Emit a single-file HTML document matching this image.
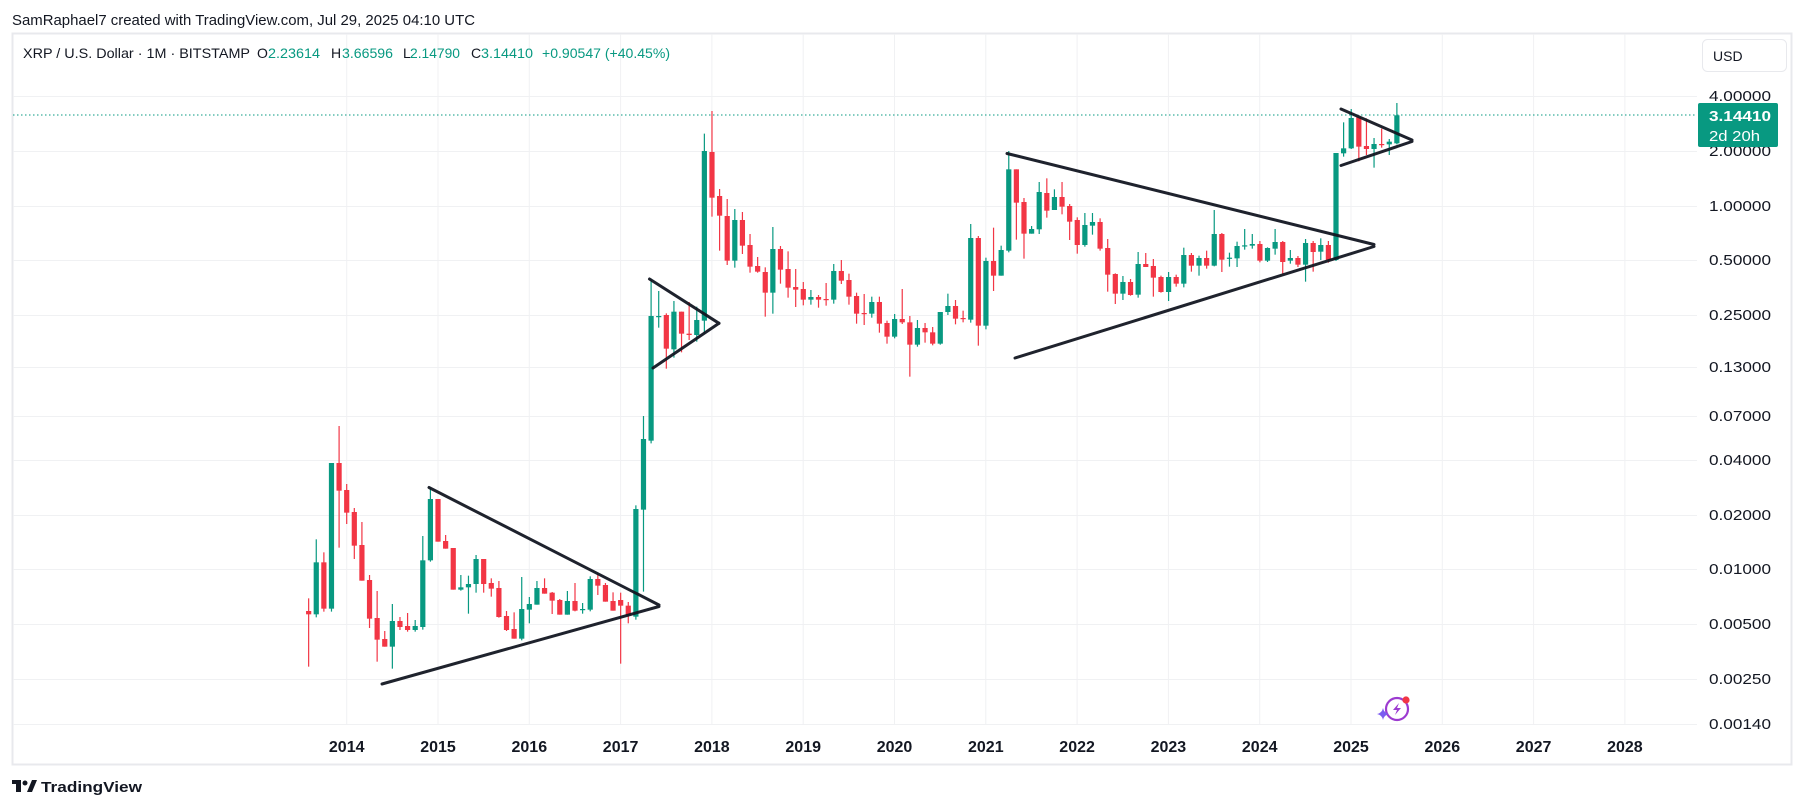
<!DOCTYPE html>
<html><head><meta charset="utf-8"><style>
html,body{margin:0;padding:0;background:#fff;width:1805px;height:810px;overflow:hidden}
svg{display:block;font-family:"Liberation Sans",sans-serif}
</style></head><body>
<svg id="s" width="1805" height="810" viewBox="0 0 1805 810" xmlns="http://www.w3.org/2000/svg">
<rect x="0" y="0" width="1805" height="810" fill="#fff"/>
<text x="12" y="25" font-size="15" fill="#131722" textLength="463" lengthAdjust="spacingAndGlyphs">SamRaphael7 created with TradingView.com, Jul 29, 2025 04:10 UTC</text>
<rect x="12.5" y="33.5" width="1779" height="731" fill="none" stroke="#e8e9ed" stroke-width="2"/>
<g id="grid" stroke="#f0f1f3" stroke-width="1"></g>
<text x="23" y="58" font-size="14" fill="#131722" textLength="227" lengthAdjust="spacingAndGlyphs">XRP / U.S. Dollar · 1M · BITSTAMP</text>
<text x="257" y="58" font-size="14" fill="#131722">O</text>
<text x="268" y="58" font-size="14" fill="#089981" textLength="52" lengthAdjust="spacingAndGlyphs">2.23614</text>
<text x="331" y="58" font-size="14" fill="#131722">H</text>
<text x="342" y="58" font-size="14" fill="#089981" textLength="51" lengthAdjust="spacingAndGlyphs">3.66596</text>
<text x="403" y="58" font-size="14" fill="#131722">L</text>
<text x="410" y="58" font-size="14" fill="#089981" textLength="50" lengthAdjust="spacingAndGlyphs">2.14790</text>
<text x="471" y="58" font-size="14" fill="#131722">C</text>
<text x="481" y="58" font-size="14" fill="#089981" textLength="52" lengthAdjust="spacingAndGlyphs">3.14410</text>
<text x="542" y="58" font-size="14" fill="#089981" textLength="128" lengthAdjust="spacingAndGlyphs">+0.90547 (+40.45%)</text>
<rect x="1702.5" y="39.5" width="84" height="32" rx="5" fill="#fff" stroke="#e8e9ed"/>
<text x="1713" y="61" font-size="14" fill="#131722">USD</text>
<line x1="13" y1="115" x2="1697" y2="115" stroke="#089981" stroke-dasharray="1.5,2.5" stroke-width="1"/>
<g id="candles"></g>
<g stroke="#131722" stroke-width="3" stroke-linecap="round" fill="none" opacity="0.95">
<line x1="382" y1="684" x2="659" y2="606.5"/>
<line x1="429" y1="487.5" x2="659" y2="605"/>
<line x1="649.5" y1="279" x2="719" y2="323.3"/>
<line x1="653" y1="368" x2="719" y2="323.3"/>
<line x1="1007" y1="153.5" x2="1374" y2="244.5"/>
<line x1="1015" y1="358" x2="1374" y2="246.5"/>
<line x1="1341" y1="109" x2="1412" y2="140"/>
<line x1="1341" y1="165.5" x2="1412" y2="141.5"/>
</g>
<g id="plab" font-size="15" fill="#131722"></g>
<rect x="1698" y="103" width="80" height="44" rx="2" fill="#089981"/>
<text x="1709" y="121" font-size="15" font-weight="bold" fill="#fff" textLength="62" lengthAdjust="spacingAndGlyphs">3.14410</text>
<text x="1709" y="141" font-size="15" fill="#fff" textLength="51" lengthAdjust="spacingAndGlyphs">2d 20h</text>
<g id="ylab" font-size="16" font-weight="bold" fill="#131722" text-anchor="middle"></g>
<g transform="translate(1397,709)">
<circle cx="0" cy="0" r="11" fill="none" stroke="#9c3bd0" stroke-width="2.2"/>
<path d="M2,-6 L-4,1 L0,1 L-2,6 L4,-1 L0,-1 Z" fill="#9c3bd0"/>
<circle cx="9" cy="-9" r="3.6" fill="#f23645"/>
<path d="M-14,-1 Q-13,4 -8,5 Q-13,6 -14,11 Q-15,6 -20,5 Q-15,4 -14,-1Z" fill="#7b5cf0"/>
</g>
<g transform="translate(12,780)">
<path d="M0,0 H9 V12 H4 V4 H0 Z" fill="#131722"/>
<circle cx="13" cy="3" r="2.5" fill="#131722"/>
<path d="M15,12 L20,0 H25 L20,12 Z" fill="#131722"/>
<text x="29" y="12" font-size="15" font-weight="bold" fill="#131722" textLength="101" lengthAdjust="spacingAndGlyphs">TradingView</text>
</g>
</svg>
<script>
(function(){
var NS="http://www.w3.org/2000/svg";
function el(p,t,a,txt){var e=document.createElementNS(NS,t);for(var k in a)e.setAttribute(k,a[k]);if(txt!=null)e.textContent=txt;p.appendChild(e);return e;}
var grid=document.getElementById('grid');
var gy=[96,151,206,260,315,367,416,460,515,569,624,679,724];
var gl=["4.00000","2.00000","1.00000","0.50000","0.25000","0.13000","0.07000","0.04000","0.02000","0.01000","0.00500","0.00250","0.00140"];
gy.forEach(function(y){el(grid,'line',{x1:13,y1:y+0.5,x2:1697,y2:y+0.5});});
for(var i=0;i<15;i++){var x=346.7+91.3*i;el(grid,'line',{x1:x,y1:34,x2:x,y2:725});}
var pl=document.getElementById('plab');
gy.forEach(function(y,i){el(pl,'text',{x:1709,y:y+5,textLength:62,lengthAdjust:'spacingAndGlyphs'},gl[i]);});
var yl=document.getElementById('ylab');
for(var i=0;i<15;i++){el(yl,'text',{x:346.7+91.3*i,y:752},String(2014+i));}
var A="r,633,643,595,800|g,643,487,418,652|r,487,626,457,635|g,626,189,189,635|r,189,272,78,443|r,270,338,252,372|r,336,437,324,477|r,435,542,366,542|r,540,656,525,684|r,654,719,573,785|r,717,740,693,740|g,740,663,612,806|r,663,681,651,690|r,678,690,639,695|g,690,678,660,695|g,681,481,408,689|g,481,297,262,485|r,297,425,297,425|r,423,446,405,446|r,444,569,444,569|g,569,562,525,572|g,562,552,527,641|g,552,477,465,578|r,477,552,477,578|r,549,566,535,590|r,564,651,543,653|r,648,690,633,693|r,687,716,637,716|g,716,627,531,721|g,629,612,591,670|g,614,564,543,614|r,564,581,535,581|r,578,602,576,642|r,600,644,597,644|g,644,603,573,644|r,603,632,549,634|g,629,627,609,641|g,629,537,529,634|r,537,557,522,585|r,555,605,549,605|r,603,632,577,632|r,600,617,578,791|r,617,646,606,670|g,650,327,316,659|g,329,117,48,575";
var B="g,1052,678,566,1060|g,678,678,603,713|r,675,776,670,836|g,778,665,633,803|r,665,731,665,787|r,731,735,636,750|g,735,690,650,755|g,692,183,131,730|r,186,323,63,380|r,318,377,297,482|r,378,512,327,525|g,512,390,357,533|r,390,467,366,492|r,465,530,432,548|r,528,545,501,548|r,546,608,532,680|g,608,477,411,671|r,477,539,468,581|r,537,593,484,623|r,591,599,537,651|r,597,629,576,646|g,629,621,600,644|r,621,629,615,653|r,627,629,579,647|g,629,543,522,641|r,543,572,510,582|r,570,620,551,644|r,618,671,608,701|r,669,671,612,705|g,671,636,620,683|r,636,701,620,728|r,699,740,692,761|g,740,687,672,745|r,687,697,597,702|r,697,764,678,860|g,764,714,690,770|r,714,727,699,758|r,727,761,711,766|g,761,666,666,764|g,666,648,611,675|r,648,686,630,703|r,684,686,662,697|g,689,444,402,698|r,444,707,438,767|g,707,513,503,718|r,513,557,413,603|g,557,480,467,557|g,482,238,183,487|r,238,338,238,449|r,336,431,324,506|g,431,417,408,431|g,418,306,276,432";
var C="r,189,242,145,263|g,240,201,178,240|r,201,230,156,253|r,228,275,222,330|r,270,345,262,371|g,345,285,249,350|g,287,276,249,314|r,276,356,265,362|r,354,434,327,485|r,432,491,430,522|g,491,456,438,510|r,456,495,447,497|g,494,402,366,503|r,402,411,369,411|r,408,443,387,500|r,441,486,437,488|g,486,441,426,513|r,441,461,434,470|g,461,375,353,472|r,375,407,369,425|g,407,384,377,437|r,384,407,362,416|g,407,312,240,409|r,312,389,309,426|g,385,383,368,410|g,385,348,335,411|g,346,346,297,359|g,347,342,312,356|r,342,392,333,397|g,392,354,352,396|g,356,336,297,374|r,336,396,333,432|g,392,384,360,401|r,384,404,378,411|g,404,339,327,455|r,339,366,333,425|g,365,345,325,390|r,345,390,333,398|g,390,69,69,393";
var D="g,460,445,367,470|g,445,354,327,447|r,352,440,350,484|r,438,447,355,465|g,447,432,414,503|r,432,435,386,443|g,433,425,417,465|g,430,346,309,433";
var cg=document.getElementById('candles');
var m=-5;
function seg(str,off){str.split('|').forEach(function(s){var p=s.split(',');var col=p[0]=='g'?'#089981':'#f23645';
var o=off+(+p[1])/3,c=off+(+p[2])/3,h=off+(+p[3])/3,l=off+(+p[4])/3;var x=346.7+m*7.61;
el(cg,'line',{x1:x,y1:h,x2:x,y2:l,stroke:col,'stroke-width':1.2});
var t=Math.min(o,c),bh=Math.max(Math.abs(o-c),1.2);
el(cg,'rect',{x:x-2.6,y:t,width:5.2,height:bh,fill:col});m++;});}
seg(A,400);seg(B,90);seg(C,130);seg(D,0);
})();
</script>
</body></html>
